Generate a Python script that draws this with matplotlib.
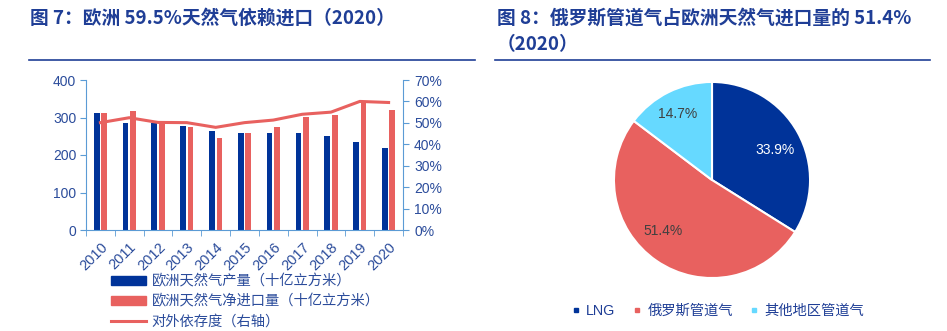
import matplotlib.pyplot as plt
import numpy as np
from matplotlib.lines import Line2D
from matplotlib.patches import Patch

plt.rcParams['font.family'] = ['Liberation Sans', 'Noto Sans CJK SC']

years = ['2010', '2011', '2012', '2013', '2014', '2015', '2016', '2017', '2018', '2019', '2020']
production = [311, 286, 285, 278, 265, 260, 260, 260, 251, 236, 219]   # 十亿立方米
net_import = [311, 317, 287, 275, 245, 260, 275, 302, 307, 343, 320]  # 十亿立方米
dependency = [50.1, 52.4, 50.2, 50.1, 47.9, 50.1, 51.3, 54.0, 55.0, 60.0, 59.5]  # %

pie_labels = ['LNG', '俄罗斯管道气', '其他地区管道气']
pie_values = [33.9, 51.4, 14.7]

DARK_BLUE = '#003399'
RED = '#E8615F'
LIGHT_BLUE = '#66D9FF'
TITLE_C = '#1F3E96'
TEXT_C = '#2B4C9B'
SPINE_C = '#5B9BD5'

fig = plt.figure(figsize=(9.47, 3.31), dpi=100)

# titles and rules
fig.text(30 / 947, 1 - 18 / 331, '图 7：欧洲 59.5%天然气依赖进口（2020）', fontsize=13.5,
         fontweight='bold', color=TITLE_C, va='center', family=['Noto Sans CJK SC'])
fig.text(497 / 947, 1 - 18 / 331, '图 8：俄罗斯管道气占欧洲天然气进口量的 51.4%', fontsize=13.5,
         fontweight='bold', color=TITLE_C, va='center', family=['Noto Sans CJK SC'])
fig.text(497 / 947, 1 - 45 / 331, '（2020）', fontsize=13.5,
         fontweight='bold', color=TITLE_C, va='center', family=['Noto Sans CJK SC'])
fig.add_artist(Line2D([29 / 947, 475 / 947], [1 - 59.5 / 331] * 2, color=TITLE_C, lw=1.2))
fig.add_artist(Line2D([495 / 947, 930 / 947], [1 - 59.5 / 331] * 2, color=TITLE_C, lw=1.2))

# left chart
ax = fig.add_axes([86 / 947, 1 - 230 / 331, (403 - 86) / 947, 150 / 331])
x = np.arange(len(years))
w = 0.2
ax.bar(x - 0.13, production, width=w, color=DARK_BLUE, zorder=2)
ax.bar(x + 0.13, net_import, width=w, color=RED, zorder=2)
ax.set_xlim(-0.5, len(years) - 0.5)
ax.set_ylim(0, 400)
ax.set_yticks([0, 100, 200, 300, 400])
ax.set_xticks(x)
ax.set_xticklabels(years, rotation=45, ha='right', rotation_mode='anchor')
ax.set_xticks(np.arange(-0.5, len(years) + 0.5, 1), minor=True)
ax.tick_params(axis='x', which='major', length=0, pad=7, labelsize=10.5, labelcolor=TEXT_C)
ax.tick_params(axis='x', which='minor', length=4, color=SPINE_C, direction='out')
ax.tick_params(axis='y', length=4, color=SPINE_C, labelsize=10, labelcolor=TEXT_C, pad=3)
for s in ['top', 'right']:
    ax.spines[s].set_visible(False)
for s in ['left', 'bottom']:
    ax.spines[s].set_color(SPINE_C)

ax2 = ax.twinx()
ax2.plot(x, dependency, color=RED, lw=2.2, zorder=3)
ax2.set_ylim(0, 70)
ax2.set_yticks(range(0, 71, 10))
ax2.set_yticklabels([f'{v}%' for v in range(0, 71, 10)])
ax2.tick_params(axis='y', length=4, color=SPINE_C, labelsize=10, labelcolor=TEXT_C, pad=4)
for s in ['top', 'left', 'bottom']:
    ax2.spines[s].set_visible(False)
ax2.spines['right'].set_color(SPINE_C)

handles = [Patch(color=DARK_BLUE), Patch(color=RED), Line2D([], [], color=RED, lw=2.2)]
labels = ['欧洲天然气产量（十亿立方米）', '欧洲天然气净进口量（十亿立方米）', '对外依存度（右轴）']
leg = fig.legend(handles, labels, loc='upper left', bbox_to_anchor=(111 / 947, 1 - 274 / 331),
                 frameon=False, fontsize=10.3, handlelength=2.45, handleheight=0.6,
                 handletextpad=0.4, labelspacing=0.42, borderpad=0, borderaxespad=0)
for t in leg.get_texts():
    t.set_color(TEXT_C)

# right chart
pax = fig.add_axes([612 / 947, 1 - 280 / 331, 200 / 947, 200 / 331])
wedges, _ = pax.pie(pie_values, colors=[DARK_BLUE, RED, LIGHT_BLUE], startangle=90,
                    counterclock=False, wedgeprops=dict(edgecolor='white', linewidth=1.5))
pax.set_xlim(-1.02, 1.02)
pax.set_ylim(-1.02, 1.02)
pax.set_aspect('equal')
# percentage labels
label_pos = [(0.64, 0.31), (-0.50, -0.52), (-0.35, 0.67)]
label_col = ['white', '#404040', '#404040']
for v, (px, py), c in zip(pie_values, label_pos, label_col):
    pax.text(px, py, f'{v}%', color=c, fontsize=10, ha='center', va='center')

mh = [Line2D([], [], marker='s', ls='none', markersize=3.5, color=c)
      for c in [DARK_BLUE, RED, LIGHT_BLUE]]
pleg = fig.legend(mh, pie_labels, loc='center', bbox_to_anchor=(718 / 947, 1 - 311 / 331),
                  ncol=3, frameon=False, fontsize=10.3, handlelength=0.6, handletextpad=0.4,
                  columnspacing=1.2, borderpad=0, borderaxespad=0)
for t in pleg.get_texts():
    t.set_color(TITLE_C)

fig.savefig('out.png', dpi=100)
